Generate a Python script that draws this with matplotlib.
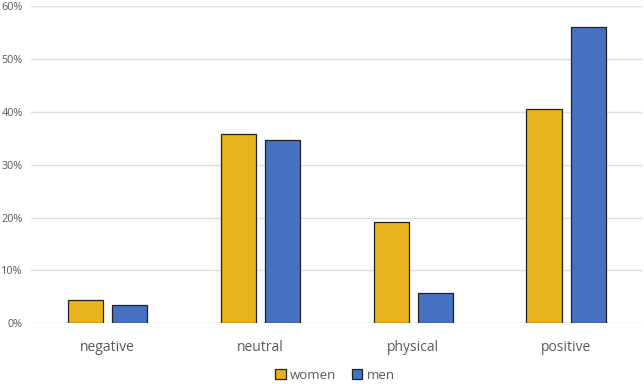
import numpy as np
import matplotlib
matplotlib.use('Agg')
import matplotlib.pyplot as plt
from matplotlib.ticker import PercentFormatter

plt.rcParams['font.family'] = ['Open Sans', 'DejaVu Sans']

categories = ['negative', 'neutral', 'physical', 'positive']
women = [4.4, 35.9, 19.1, 40.5]
men = [3.4, 34.7, 5.8, 56.1]

women_color = '#E8B21C'
men_color = '#4571C0'
text_color = '#595959'

fig = plt.figure(figsize=(6.44, 3.84), dpi=100)
ax = fig.add_axes([0.048, 0.158, 0.95, 0.826])

x = np.arange(len(categories))
width = 0.23
ax.bar(x - 0.145, women, width, color=women_color, edgecolor='#222222', linewidth=0.9, label='women', zorder=3)
ax.bar(x + 0.145, men, width, color=men_color, edgecolor='#222222', linewidth=0.9, label='men', zorder=3)

ax.set_xlim(-0.5, len(categories) - 0.5)
ax.set_ylim(0, 60)
ax.set_yticks(np.arange(0, 61, 10))
ax.yaxis.set_major_formatter(PercentFormatter(decimals=0))
ax.set_xticks(x)
ax.set_xticklabels(categories)

ax.grid(axis='y', color='#E0E0E0', linewidth=1, zorder=0)
for s in ax.spines.values():
    s.set_visible(False)
ax.tick_params(axis='both', length=0)
ax.tick_params(axis='y', labelsize=7.8, labelcolor=text_color, pad=6)
ax.tick_params(axis='x', labelsize=10, labelcolor=text_color, pad=12)

leg = fig.legend(loc='lower center', bbox_to_anchor=(0.52, -0.025), ncol=2, frameon=False,
                 fontsize=9.5, handlelength=0.8, handleheight=0.8, handletextpad=0.3, columnspacing=1.2)
for t in leg.get_texts():
    t.set_color(text_color)

fig.savefig('out.png', dpi=100)
